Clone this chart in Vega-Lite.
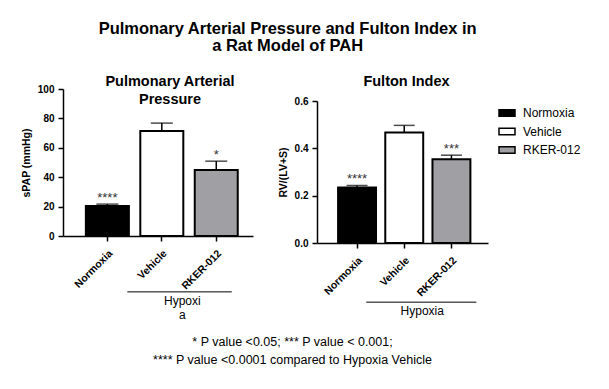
{
  "$schema": "https://vega.github.io/schema/vega-lite/v6.json",
  "padding": {"left": 21, "top": 20, "right": 5, "bottom": 5},
  "title": {"text": ["Pulmonary Arterial Pressure and Fulton Index in", "a Rat Model of PAH"], "fontSize": 16.5, "fontWeight": "bold", "anchor": "middle", "lineHeight": 17, "offset": 19, "dx": -15, "color": "black"},
  "datasets": {
    "pap": [
      {"group": "Normoxia", "mean": 20.4, "upper": 21.7, "sig": "****"},
      {"group": "Vehicle", "mean": 71.4, "upper": 76.8, "sig": ""},
      {"group": "RKER-012", "mean": 44.9, "upper": 50.9, "sig": "*"}
    ],
    "fulton": [
      {"group": "Normoxia", "mean": 0.235, "upper": 0.243, "sig": "****"},
      {"group": "Vehicle", "mean": 0.467, "upper": 0.497, "sig": ""},
      {"group": "RKER-012", "mean": 0.354, "upper": 0.371, "sig": "***"}
    ],
    "bracketL": [{"from": "Vehicle", "to": "RKER-012", "label": "Hypoxi\na"}],
    "bracketR": [{"from": "Vehicle", "to": "RKER-012", "label": "Hypoxia"}],
    "notes": [{"note": "* P value <0.05; *** P value < 0.001;\n**** P value <0.0001 compared to Hypoxia Vehicle"}],
    "none": []
  },
  "vconcat": [
    {
      "hconcat": [
        {
          "vconcat": [
            {"width": 1, "height": 1, "data": {"name": "none"}, "mark": "rect"},
            {
              "width": 190,
              "height": 147,
              "title": {"text": ["Pulmonary Arterial", "Pressure"], "fontSize": 14.5, "fontWeight": "bold", "offset": -23.5, "dx": 12, "lineHeight": 18, "color": "black"},
              "layer": [
                {
                  "data": {"name": "pap"},
                  "mark": {"type": "bar", "stroke": "black", "strokeWidth": 2},
                  "encoding": {
                    "x": {"field": "group", "type": "nominal", "scale": {"domain": ["Normoxia", "Vehicle", "RKER-012"], "paddingInner": 0.21, "paddingOuter": 0.35, "align": 0.6}, "axis": {"title": null}},
                    "y": {"field": "mean", "type": "quantitative", "scale": {"domain": [0, 100], "nice": false}, "axis": {"title": "sPAP (mmHg)", "values": [0, 20, 40, 60, 80, 100], "labelOverlap": false}},
                    "color": {"field": "group", "type": "nominal", "scale": {"domain": ["Normoxia", "Vehicle", "RKER-012"], "range": ["#000000", "#ffffff", "#a0a0a4"]}, "legend": null}
                  }
                },
                {
                  "data": {"name": "pap"},
                  "mark": {"type": "rule", "strokeWidth": 1.5, "color": "black"},
                  "encoding": {
                    "x": {"field": "group", "type": "nominal", "axis": {"title": null}},
                    "y": {"field": "mean", "type": "quantitative", "axis": {"title": "sPAP (mmHg)", "values": [0, 20, 40, 60, 80, 100], "labelOverlap": false}},
                    "y2": {"field": "upper"}
                  }
                },
                {
                  "data": {"name": "pap"},
                  "mark": {"type": "tick", "size": 22, "thickness": 1.5, "color": "black"},
                  "encoding": {
                    "x": {"field": "group", "type": "nominal", "axis": {"title": null}},
                    "y": {"field": "upper", "type": "quantitative", "axis": {"title": "sPAP (mmHg)", "values": [0, 20, 40, 60, 80, 100], "labelOverlap": false}}
                  }
                },
                {
                  "data": {"name": "pap"},
                  "mark": {"type": "text", "baseline": "alphabetic", "dy": -2.5, "fontSize": 13, "color": "#333333"},
                  "encoding": {
                    "x": {"field": "group", "type": "nominal", "axis": {"title": null}},
                    "y": {"field": "upper", "type": "quantitative", "axis": {"title": "sPAP (mmHg)", "values": [0, 20, 40, 60, 80, 100], "labelOverlap": false}},
                    "text": {"field": "sig"}
                  }
                },
                {
                  "data": {"name": "bracketL"},
                  "mark": {"type": "rule", "strokeWidth": 1, "color": "black", "xOffset": -13, "x2Offset": -6},
                  "encoding": {
                    "x": {"field": "from", "type": "nominal", "bandPosition": 0, "axis": {"title": null}},
                    "x2": {"field": "to", "bandPosition": 1},
                    "y": {"datum": -38, "type": "quantitative", "axis": {"title": "sPAP (mmHg)", "values": [0, 20, 40, 60, 80, 100], "labelOverlap": false}}
                  }
                },
                {
                  "data": {"name": "bracketL"},
                  "mark": {"type": "text", "baseline": "top", "dy": 4, "dx": -1, "fontSize": 12, "lineBreak": "\n", "lineHeight": 14, "color": "black"},
                  "encoding": {
                    "x": {"field": "from", "type": "nominal", "bandPosition": 1, "axis": {"title": null}},
                    "y": {"datum": -38, "type": "quantitative", "axis": {"title": "sPAP (mmHg)", "values": [0, 20, 40, 60, 80, 100], "labelOverlap": false}},
                    "text": {"field": "label"}
                  }
                }
              ]
            }
          ],
          "spacing": 0
        },
        {
          "vconcat": [
            {"width": 1, "height": 1, "data": {"name": "none"}, "mark": "rect"},
            {
              "width": 171,
              "height": 142,
              "title": {"text": "Fulton Index", "fontSize": 14.5, "fontWeight": "bold", "offset": 6.5, "dx": 4, "color": "black"},
              "layer": [
                {
                  "data": {"name": "fulton"},
                  "mark": {"type": "bar", "stroke": "black", "strokeWidth": 2},
                  "encoding": {
                    "x": {"field": "group", "type": "nominal", "scale": {"domain": ["Normoxia", "Vehicle", "RKER-012"], "paddingInner": 0.196, "paddingOuter": 0.41, "align": 0.545}, "axis": {"title": null}},
                    "y": {"field": "mean", "type": "quantitative", "scale": {"domain": [0, 0.6], "nice": false}, "axis": {"title": "RV/(LV+S)", "values": [0, 0.2, 0.4, 0.6], "format": ".1f", "labelOverlap": false}},
                    "color": {"field": "group", "type": "nominal", "scale": {"domain": ["Normoxia", "Vehicle", "RKER-012"], "range": ["#000000", "#ffffff", "#a0a0a4"]},
                      "legend": {"title": null, "orient": "right", "offset": 7, "padding": 3, "symbolType": "M-1,-0.42H1V0.42H-1Z", "symbolSize": 256, "symbolStrokeColor": "black", "symbolStrokeWidth": 1.5, "labelFontSize": 12, "labelColor": "black", "labelOffset": 7, "rowPadding": 2.5}}
                  }
                },
                {
                  "data": {"name": "fulton"},
                  "mark": {"type": "rule", "strokeWidth": 1.5, "color": "black"},
                  "encoding": {
                    "x": {"field": "group", "type": "nominal", "axis": {"title": null}},
                    "y": {"field": "mean", "type": "quantitative", "axis": {"title": "RV/(LV+S)", "values": [0, 0.2, 0.4, 0.6], "format": ".1f", "labelOverlap": false}},
                    "y2": {"field": "upper"}
                  }
                },
                {
                  "data": {"name": "fulton"},
                  "mark": {"type": "tick", "size": 21, "thickness": 1.5, "color": "black"},
                  "encoding": {
                    "x": {"field": "group", "type": "nominal", "axis": {"title": null}},
                    "y": {"field": "upper", "type": "quantitative", "axis": {"title": "RV/(LV+S)", "values": [0, 0.2, 0.4, 0.6], "format": ".1f", "labelOverlap": false}}
                  }
                },
                {
                  "data": {"name": "fulton"},
                  "mark": {"type": "text", "baseline": "alphabetic", "dy": -2.5, "fontSize": 13, "color": "#333333"},
                  "encoding": {
                    "x": {"field": "group", "type": "nominal", "axis": {"title": null}},
                    "y": {"field": "upper", "type": "quantitative", "axis": {"title": "RV/(LV+S)", "values": [0, 0.2, 0.4, 0.6], "format": ".1f", "labelOverlap": false}},
                    "text": {"field": "sig"}
                  }
                },
                {
                  "data": {"name": "bracketR"},
                  "mark": {"type": "rule", "strokeWidth": 1, "color": "black", "xOffset": -19, "x2Offset": 6},
                  "encoding": {
                    "x": {"field": "from", "type": "nominal", "bandPosition": 0, "axis": {"title": null}},
                    "x2": {"field": "to", "bandPosition": 1},
                    "y": {"datum": -0.25, "type": "quantitative", "axis": {"title": "RV/(LV+S)", "values": [0, 0.2, 0.4, 0.6], "format": ".1f", "labelOverlap": false}}
                  }
                },
                {
                  "data": {"name": "bracketR"},
                  "mark": {"type": "text", "baseline": "top", "dy": 4, "dx": -1, "fontSize": 12, "color": "black"},
                  "encoding": {
                    "x": {"field": "from", "type": "nominal", "bandPosition": 1, "axis": {"title": null}},
                    "y": {"datum": -0.25, "type": "quantitative", "axis": {"title": "RV/(LV+S)", "values": [0, 0.2, 0.4, 0.6], "format": ".1f", "labelOverlap": false}},
                    "text": {"field": "label"}
                  }
                }
              ]
            }
          ],
          "spacing": 0,
          "resolve": {"scale": {"color": "independent"}, "legend": {"color": "independent"}}
        }
      ],
      "spacing": 25,
      "align": "none",
      "resolve": {"scale": {"color": "independent"}, "legend": {"color": "independent"}}
    },
    {
      "width": 459,
      "height": 36,
      "data": {"name": "notes"},
      "mark": {"type": "text", "lineBreak": "\n", "fontSize": 12.5, "lineHeight": 18, "color": "black"},
      "encoding": {"text": {"field": "note"}}
    }
  ],
  "spacing": 3,
  "config": {
    "font": "Liberation Sans",
    "view": {"stroke": null},
    "axis": {"domainColor": "black", "domainWidth": 1.5, "tickColor": "black", "tickWidth": 1.5, "tickSize": 5, "grid": false, "labelColor": "black", "labelFontWeight": "bold", "labelFontSize": 10, "titleColor": "black", "titleFontWeight": "bold", "titleFontSize": 10.5, "labelOverlap": false},
    "axisY": {"labelPadding": 4, "titlePadding": 6},
    "axisX": {"labelAngle": -45, "labelPadding": 7, "labelFontSize": 10.5}
  }
}
